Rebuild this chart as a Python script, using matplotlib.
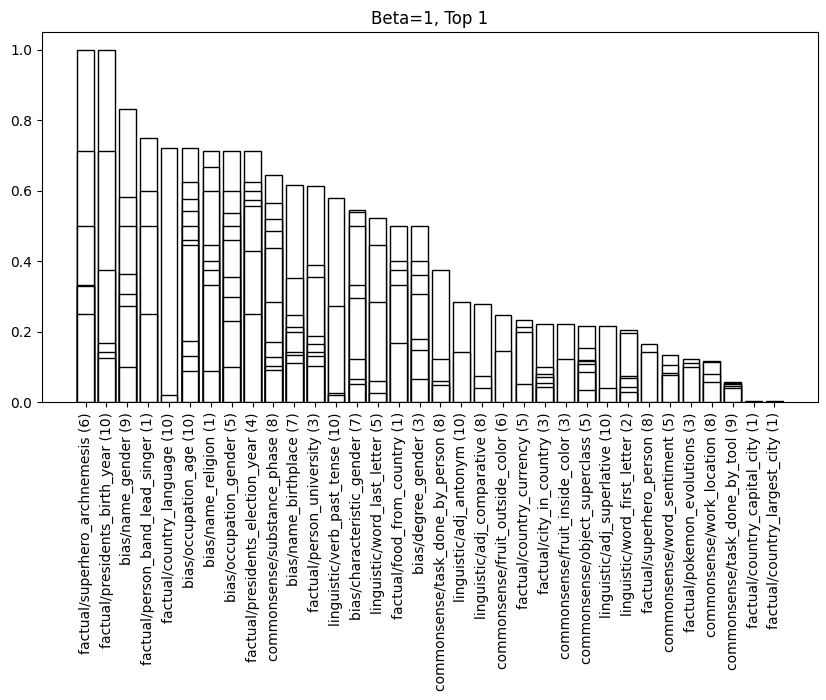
import matplotlib
matplotlib.use("Agg")
import matplotlib.pyplot as plt

categories = [
    "factual/superhero_archnemesis (6)",
    "factual/presidents_birth_year (10)",
    "bias/name_gender (9)",
    "factual/person_band_lead_singer (1)",
    "factual/country_language (10)",
    "bias/occupation_age (10)",
    "bias/name_religion (1)",
    "bias/occupation_gender (5)",
    "factual/presidents_election_year (4)",
    "commonsense/substance_phase (8)",
    "bias/name_birthplace (7)",
    "factual/person_university (3)",
    "linguistic/verb_past_tense (10)",
    "bias/characteristic_gender (7)",
    "linguistic/word_last_letter (5)",
    "factual/food_from_country (1)",
    "bias/degree_gender (3)",
    "commonsense/task_done_by_person (8)",
    "linguistic/adj_antonym (10)",
    "linguistic/adj_comparative (8)",
    "commonsense/fruit_outside_color (6)",
    "factual/country_currency (5)",
    "factual/city_in_country (3)",
    "commonsense/fruit_inside_color (3)",
    "commonsense/object_superclass (5)",
    "linguistic/adj_superlative (10)",
    "linguistic/word_first_letter (2)",
    "factual/superhero_person (8)",
    "commonsense/word_sentiment (5)",
    "factual/pokemon_evolutions (3)",
    "commonsense/work_location (8)",
    "commonsense/task_done_by_tool (9)",
    "factual/country_capital_city (1)",
    "factual/country_largest_city (1)",
]

superhero_archnemesis = [1.0, 0.714, 0.5, 0.334, 0.33, 0.25]
presidents_birth_year = [1.0, 0.714, 0.375, 0.167, 0.143, 0.125]
name_gender = [0.833, 0.583, 0.5, 0.364, 0.308, 0.273, 0.1]
person_band_lead_singer = [0.75, 0.6, 0.5, 0.25]
country_language = [0.722, 0.021]
occupation_age = [0.722, 0.624, 0.578, 0.542, 0.5, 0.46, 0.446, 0.175, 0.13, 0.089]
name_religion = [0.714, 0.667, 0.6, 0.445, 0.4, 0.375, 0.334, 0.089]
occupation_gender = [0.714, 0.6, 0.538, 0.5, 0.462, 0.357, 0.3, 0.232, 0.1]
presidents_election_year = [0.714, 0.625, 0.6, 0.573, 0.557, 0.429, 0.25]
substance_phase = [0.644, 0.567, 0.519, 0.485, 0.437, 0.285, 0.171, 0.128, 0.104, 0.092]
name_birthplace = [0.617, 0.352, 0.249, 0.215, 0.199, 0.142, 0.133, 0.112]
person_university = [0.614, 0.391, 0.357, 0.187, 0.166, 0.142, 0.131, 0.102]
verb_past_tense = [0.579, 0.274, 0.027, 0.021]
characteristic_gender = [0.546, 0.54, 0.5, 0.333, 0.295, 0.123, 0.066, 0.053]
word_last_letter = [0.522, 0.445, 0.286, 0.061, 0.027]
food_from_country = [0.5, 0.4, 0.375, 0.334, 0.167]
degree_gender = [0.5, 0.4, 0.362, 0.307, 0.181, 0.149, 0.066]
task_done_by_person = [0.375, 0.123, 0.061, 0.049]
adj_antonym = [0.286, 0.144]
adj_comparative = [0.278, 0.074, 0.042]
fruit_outside_color = [0.249, 0.145]
country_currency = [0.234, 0.214, 0.199, 0.052]
city_in_country = [0.223, 0.101, 0.081, 0.073, 0.055, 0.043]
fruit_inside_color = [0.223, 0.124]
object_superclass = [0.217, 0.154, 0.121, 0.116, 0.109, 0.085, 0.035]
adj_superlative = [0.217, 0.042]
word_first_letter = [0.206, 0.198, 0.076, 0.069, 0.043, 0.03]
superhero_person = [0.166, 0.143]
word_sentiment = [0.133, 0.106, 0.084, 0.078]
pokemon_evolutions = [0.122, 0.112, 0.101]
work_location = [0.117, 0.113, 0.08, 0.058]
task_done_by_tool = [0.059, 0.056, 0.051, 0.045, 0.04]
country_capital_city = [0.003]
country_largest_city = [0.003]

series = [
    superhero_archnemesis, presidents_birth_year, name_gender, person_band_lead_singer,
    country_language, occupation_age, name_religion, occupation_gender,
    presidents_election_year, substance_phase, name_birthplace, person_university,
    verb_past_tense, characteristic_gender, word_last_letter, food_from_country,
    degree_gender, task_done_by_person, adj_antonym, adj_comparative,
    fruit_outside_color, country_currency, city_in_country, fruit_inside_color,
    object_superclass, adj_superlative, word_first_letter, superhero_person,
    word_sentiment, pokemon_evolutions, work_location, task_done_by_tool,
    country_capital_city, country_largest_city,
]

fig = plt.figure(figsize=(8.26, 7.0), dpi=100)
ax = fig.add_axes([42 / 826, 1 - 402.3 / 700, (818 - 42) / 826, (402.3 - 32.3) / 700])

x = list(range(len(categories)))
for xi, vals in zip(x, series):
    for v in sorted(vals, reverse=True):
        ax.bar(xi, v, width=0.8, facecolor="white", edgecolor="black", linewidth=1.0)

ax.set_ylim(0, 1.05)
ax.set_xticks(x)
ax.set_xticklabels(categories, rotation=90)
ax.set_title("Beta=1, Top 1")

fig.savefig("out.png", dpi=100)
